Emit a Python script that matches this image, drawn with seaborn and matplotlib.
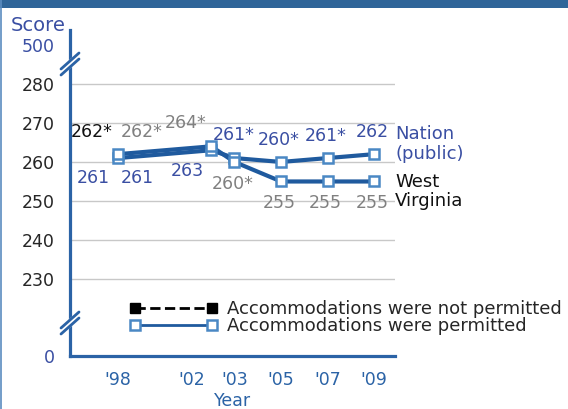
import numpy as np
import pandas as pd
import matplotlib
matplotlib.use("Agg")
import matplotlib.pyplot as plt
import matplotlib.transforms as mtrans
import seaborn as sns
from matplotlib.lines import Line2D
from matplotlib.patches import Rectangle

years = [1998, 2002, 2003, 2005, 2007, 2009]
year_labels = ["'98", "'02", "'03", "'05", "'07", "'09"]
nation = [261, 263, 261, 260, 261, 262]
west_virginia = [262, 264, 260, 255, 255, 255]
nation_text = ["261", "263", "261*", "260*", "261*", "262"]
wv_text = ["262*", "264*", "260*", "255", "255", "255"]
# 1998: accommodations not permitted
np_years = [1998, 1998]
np_scores = [261, 262]
np_text = ["261", "262*"]
grid_ticks = [230, 240, 250, 260, 270, 280]
legend_labels = ["Accommodations were not permitted", "Accommodations were permitted"]

BLUE = "#2b63a6"
LINE = "#1f5a9e"
EDGE = "#4a88c4"
TXT_BLUE = "#3a4fa3"
GRAY = "#808080"

sns.set_style("white")
plt.rcParams["font.family"] = ["DejaVu Sans"]
plt.rcParams["font.size"] = 12.5

fig = plt.figure(figsize=(5.68, 4.09), dpi=100)
ax = fig.add_axes([70 / 568, 53 / 409, 325 / 568, 326 / 409])

df = pd.DataFrame({
    "Year": years * 2,
    "Score": nation + west_virginia,
    "Jurisdiction": ["Nation (public)"] * 6 + ["West Virginia"] * 6,
})

sns.scatterplot(x=np_years, y=np_scores, marker="s", color="black", s=60,
                edgecolor="black", zorder=2, ax=ax, legend=False)
sns.lineplot(data=df, x="Year", y="Score", units="Jurisdiction", estimator=None,
             color=LINE, lw=3, marker="s", markersize=7.5, markerfacecolor="white",
             markeredgecolor=EDGE, markeredgewidth=1.8, zorder=3, ax=ax, legend=False)

ax.set_xlim(1995.94, 2009.89)
ax.set_ylim(210.3, 293.8)

# value labels (pixel offsets)
nat_off = [(19, -20), (-24, -21), (-1, 23), (-2, 22), (-2, 22), (-2, 22)]
wv_off = [(24, 22), (-26, 23), (-2, -22), (-2, -22), (-2, -22), (-2, -22)]
for x, y, t, o in zip(years, nation, nation_text, nat_off):
    ax.annotate(t, (x, y), xytext=o, textcoords="offset pixels", ha="center",
                va="center", color=TXT_BLUE, fontsize=12.5)
for x, y, t, o in zip(years, west_virginia, wv_text, wv_off):
    ax.annotate(t, (x, y), xytext=o, textcoords="offset pixels", ha="center",
                va="center", color=GRAY, fontsize=12.5)
np_off = [(-25, -20), (-26, 22)]
np_col = [TXT_BLUE, "#111111"]
for x, y, t, o, c in zip(np_years, np_scores, np_text, np_off, np_col):
    ax.annotate(t, (x, y), xytext=o, textcoords="offset pixels", ha="center",
                va="center", color=c, fontsize=12.5)

# series names
ax.annotate("Nation\n(public)", (years[-1], nation[-1]), xytext=(21, 10),
            textcoords="offset pixels", ha="left", va="center", color=TXT_BLUE,
            fontsize=13, linespacing=1.1, annotation_clip=False)
ax.annotate("West\nVirginia", (years[-1], west_virginia[-1]), xytext=(21, -10),
            textcoords="offset pixels", ha="left", va="center", color="#111111",
            fontsize=13, linespacing=1.1, annotation_clip=False)

# axes styling
sns.despine(ax=ax)
for s in ["left", "bottom"]:
    ax.spines[s].set_color(BLUE)
    ax.spines[s].set_linewidth(2.3)
ax.set_xticks(years)
ax.set_xticklabels(year_labels, color=BLUE)
ax.tick_params(axis="x", direction="out", length=8, width=1.8, color=BLUE, pad=3)
# '02 label sits left of its tick so it clears '03
lab = ax.get_xticklabels()[1]
lab.set_transform(lab.get_transform() + mtrans.ScaledTranslation(-0.19, 0, fig.dpi_scale_trans))
ax.set_yticks(grid_ticks)
ax.set_yticks([210.3, 290], minor=True)
ax.set_yticklabels(["0", "500"], minor=True, color=TXT_BLUE)
ax.tick_params(axis="y", which="both", length=0, pad=11)
ax.yaxis.grid(True, which="major", color="#c8c8c8", lw=1)
ax.set_xlabel("Year", color=BLUE, labelpad=2)
ax.set_ylabel("")
ax.text(-4 / 325, 331 / 326, "Score", transform=ax.transAxes, ha="right",
        va="center", color=TXT_BLUE, fontsize=14)

# axis breaks
for cy in [(356 - 64) / 326, (356 - 323) / 326]:
    dx, dy = 9 / 325, 8 / 326
    ax.plot([-dx, dx], [cy - dy, cy + dy], color="white", lw=5,
            transform=ax.transAxes, clip_on=False, zorder=5)
    for off in (-3 / 326, 3 / 326):
        ax.plot([-dx, dx], [cy - dy + off, cy + dy + off], color=BLUE, lw=2,
                transform=ax.transAxes, clip_on=False, zorder=6)

# legend
handles = [
    Line2D([], [], color="black", ls="--", lw=2, marker="s", markersize=7,
           markerfacecolor="black", markeredgecolor="black"),
    Line2D([], [], color=LINE, lw=2, marker="s", markersize=7,
           markerfacecolor="white", markeredgecolor=EDGE, markeredgewidth=1.8),
]
ax.legend(handles, legend_labels, loc="upper left", frameon=False,
          bbox_to_anchor=(130 / 568, 1 - 300 / 409), bbox_transform=fig.transFigure,
          numpoints=2, handlelength=4.85, handletextpad=0.5, labelspacing=-0.04,
          borderpad=0, borderaxespad=0, fontsize=13)

# banner and frame
fig.add_artist(Rectangle((0, 1 - 8 / 409), 1, 8 / 409, transform=fig.transFigure,
                         color="#2f6599", lw=0))
fig.add_artist(Line2D([0.001, 0.001], [0, 1], transform=fig.transFigure,
                      color="#5b8cc0", lw=1.2))

fig.savefig("out.png", dpi=100)
